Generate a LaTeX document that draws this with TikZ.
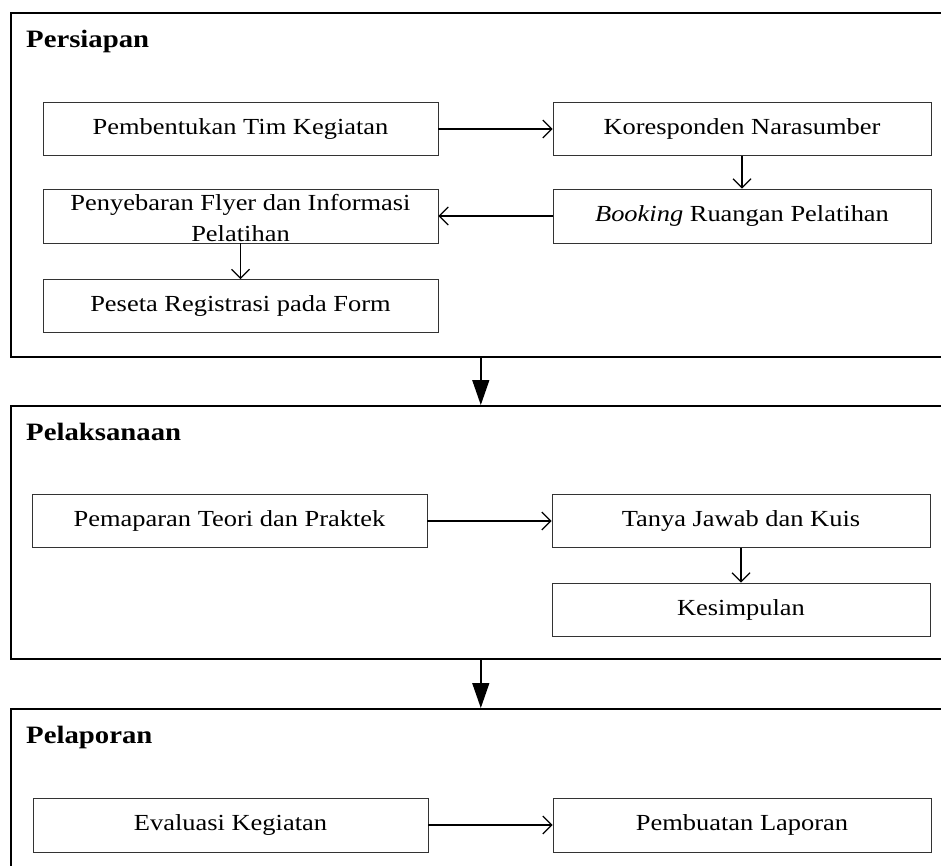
\documentclass[tikz,border=0pt]{standalone}
\usepackage{fontspec}
\setmainfont{Liberation Serif}[FakeStretch=1.15]
\usepackage{tikz}
\usetikzlibrary{arrows.meta,positioning}

\begin{document}
\begin{tikzpicture}[
  x=1pt, y=-1pt,
  font=\fontsize{23}{30}\selectfont,
  stage/.style={rectangle, draw, line width=1.6pt, anchor=north west,
                minimum width=940pt, inner sep=0pt},
  heading/.style={anchor=west, inner sep=0pt, font=\fontsize{25}{28}\selectfont\bfseries},
  task/.style={rectangle, draw=black!80, line width=0.8pt, inner sep=0pt,
               minimum height=53pt, align=center},
  wide/.style={task, minimum width=395pt},
  narrow/.style={task, minimum width=378pt},
  flow/.style={-{Straight Barb[length=9pt,width=18pt]}, line width=1.2pt},
  phase/.style={-{Triangle[length=25pt,width=17pt]}, line width=1.4pt},
]
\useasboundingbox (0,0) rectangle (941,866);
\clip (0,0) rectangle (941,866);

% three stages of the activity
\node[stage, minimum height=344pt] (prep) at (10,12) {};
\node[stage, minimum height=253pt] (exec) at (10,405) {};
\node[stage, minimum height=220pt] (rep)  at (10,708) {};

\node[heading] (prepT) at (26,41)  {Persiapan};
\node[heading] (execT) at (26,432) {Pelaksanaan};
\node[heading] (repT)  at (26,737) {Pelaporan};

% Persiapan
\node[wide]   (tim)    at (240.5,129) {Pembentukan Tim Kegiatan};
\node[narrow] (nara)   at (742,129)   {Koresponden Narasumber};
\node[narrow, minimum height=54pt] (ruang) at (742,216) {\textit{Booking} Ruangan Pelatihan};
\node[wide, minimum height=54pt]   (flyer) at (240.5,216) {};
\node[align=center, inner sep=0pt, yshift=-2pt] (flyerT) at (flyer)
  {Penyebaran Flyer dan Informasi\\[1pt]Pelatihan};
\node[wide]   (form)   at (240.5,306) {Peseta Registrasi pada Form};

\draw[flow] (tim) -- (nara);
\draw[flow] (nara) -- (ruang);
\draw[flow] (ruang) -- (flyer);
\draw[flow] (flyer) -- (form);

% Pelaksanaan
\node[wide]   (teori)  at (229.5,521) {Pemaparan Teori dan Praktek};
\node[narrow] (kuis)   at (741,521)   {Tanya Jawab dan Kuis};
\node[narrow] (simpul) at (741,609.5) {Kesimpulan};

\draw[flow] (teori) -- (kuis);
\draw[flow] (kuis) -- (simpul);

% Pelaporan
\node[wide, minimum height=54pt]   (eval)    at (230.5,825) {Evaluasi Kegiatan};
\node[narrow, minimum height=54pt] (laporan) at (742,825)   {Pembuatan Laporan};

\draw[flow] (eval) -- (laporan);

% between the stages
\draw[phase] (prep.south) -- (exec.north);
\draw[phase] (exec.south) -- (rep.north);

\end{tikzpicture}
\end{document}
